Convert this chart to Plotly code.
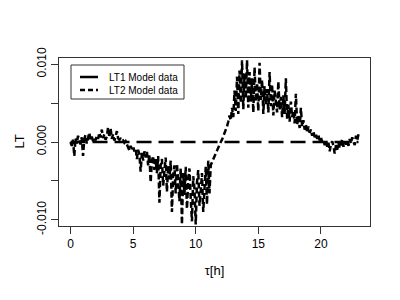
import plotly.graph_objects as go

# time axis (hours), 0.1 h steps
tau = [round(i * 0.1, 1) for i in range(231)]

# LT2 model data (values in 1e-3 units)
lt2_milli = [
    0.0, -0.5, 0.3, -1.8, 0.5, -0.2, 0.8, 0.2, -0.3, 0.6,
    -1.8, 0.4, 0.9, -0.2, 0.6, 1.2, 0.3, 0.7, 0.1, 0.5,
    0.2, 0.8, 0.4, 1.2, 0.6, 1.6, 0.5, 1.0, 0.3, 0.7,
    1.9, 0.6, 1.8, 0.4, 1.0, 0.2, 0.6, 1.4, 0.5, 0.3,
    0.4, 0.1, 0.2, -0.1, 0.1, -0.3, -0.6, -1.1, -0.5, -0.9,
    -0.6, -1.2, -0.8, -2.2, -1.0, -1.6, -3.8, -1.4, -2.4, -1.2,
    -2.0, -1.2, -3.0, -1.6, -5.2, -2.4, -1.8, -3.6, -2.2, -4.0,
    -1.8, -7.8, -3.0, -2.2, -5.6, -3.4, -2.0, -6.4, -3.0, -4.8,
    -2.4, -9.0, -4.2, -3.0, -6.6, -2.8, -5.4, -7.6, -3.4, -10.6,
    -4.0, -6.8, -3.2, -8.6, -5.0, -3.4, -7.2, -10.2, -4.4, -6.0,
    -10.6, -5.2, -3.6, -8.2, -6.4, -4.0, -9.0, -5.6, -3.2, -8.0,
    -2.4, -6.6, -3.0, -2.6, -2.2, -1.8, -1.4, -1.0, -0.7, -0.4,
    0.0, 0.3, 0.7, 1.2, 1.6, 2.0, 2.6, 3.4, 2.8, 4.4,
    3.2, 6.6, 4.0, 8.4, 3.6, 9.2, 5.0, 10.5, 4.2, 8.8,
    5.6, 10.5, 4.4, 9.0, 5.2, 8.2, 3.8, 9.6, 5.2, 7.6,
    4.0, 10.2, 5.4, 8.0, 3.6, 7.2, 4.8, 6.8, 3.8, 9.0,
    4.6, 7.4, 3.4, 6.6, 5.2, 3.8, 7.8, 4.2, 5.8, 3.2,
    6.0, 3.6, 8.2, 3.0, 4.8, 2.6, 5.2, 3.2, 4.0, 2.4,
    6.2, 2.2, 3.4, 1.8, 4.4, 2.0, 2.8, 1.6, 2.2, 1.2,
    2.0, 1.2, 1.6, 0.8, 1.4, 0.6, 1.0, 0.4, 0.9, 0.2,
    0.6, 0.0, 0.3, -0.4, 0.2, -0.6, -0.1, -1.2, -0.3, 0.1,
    -0.5, -1.5, -0.4, -1.0, 0.0, -0.8, -0.2, 0.3, -0.6, 0.0,
    -0.3, 0.2, -0.5, 0.4, -0.2, 0.6, 0.0, -0.4, 0.8, 0.2,
    1.0,
]
lt2 = [v / 1000.0 for v in lt2_milli]

# LT1 model data: flat zero
lt1_x = [0, 23]
lt1 = [0.0, 0.0]

x_ticks = [0, 5, 10, 15, 20]
y_ticks = [-0.010, -0.005, 0.0, 0.005, 0.010]
y_tick_text = ["-0.010", "", "0.000", "", "0.010"]
legend_labels = ["LT1 Model data", "LT2 Model data"]

FONT = "Liberation Sans, Arial, sans-serif"

fig = go.Figure()
fig.add_trace(go.Scatter(x=lt1_x, y=lt1, mode="lines",
                         line=dict(color="black", width=2.5, dash="15px,7px"),
                         showlegend=False, hoverinfo="skip"))
fig.add_trace(go.Scatter(x=tau, y=lt2, mode="lines",
                         line=dict(color="black", width=2.5, dash="6px,3px"),
                         showlegend=False, hoverinfo="skip"))

# page body has an 8 px margin, so offset the figure layout
OFF = 8
W, H = 400, 300
L, R, T, B = 59 - OFF, 30 + OFF, 58 - OFF, 74 + OFF
pw, ph = W - L - R, H - T - B

def px(xp):
    return (xp - OFF - L) / pw

def py(yp):
    return (H - B - (yp - OFF)) / ph

shapes = [
    # legend box
    dict(type="rect", xref="paper", yref="paper", x0=px(71), x1=px(184),
         y0=py(99), y1=py(65), line=dict(color="#333333", width=1)),
    dict(type="line", xref="paper", yref="paper", x0=px(80), x1=px(98),
         y0=py(77), y1=py(77), line=dict(color="black", width=2.5)),
    dict(type="line", xref="paper", yref="paper", x0=px(80), x1=px(98),
         y0=py(90), y1=py(90), line=dict(color="black", width=2.5, dash="5px,3px")),
]
annotations = [
    dict(xref="paper", yref="paper", x=px(107), y=py(77), text=legend_labels[0],
         showarrow=False, xanchor="left", yanchor="middle",
         font=dict(family=FONT, size=10, color="black")),
    dict(xref="paper", yref="paper", x=px(107), y=py(90), text=legend_labels[1],
         showarrow=False, xanchor="left", yanchor="middle",
         font=dict(family=FONT, size=10, color="black")),
    # y-axis title
    dict(xref="paper", yref="paper", x=px(9), y=py(142), text="LT",
         showarrow=False, xanchor="left", yanchor="middle", textangle=-90,
         font=dict(family=FONT, size=13, color="black")),
]

fig.update_layout(
    width=W, height=H,
    margin=dict(l=L, r=R, t=T, b=B, pad=0, autoexpand=False),
    paper_bgcolor="white", plot_bgcolor="white",
    font=dict(family=FONT, size=12, color="black"),
    shapes=shapes, annotations=annotations,
    showlegend=False,
    xaxis=dict(range=[-0.92, 23.92], tickvals=x_ticks, automargin=False,
               showgrid=False, zeroline=False,
               showline=True, mirror=True, linecolor="#333333", linewidth=1,
               ticks="outside", ticklen=7, tickcolor="#333333",
               tickfont=dict(size=12, family=FONT),
               title=dict(text="τ[h]", font=dict(size=13, family=FONT), standoff=15)),
    yaxis=dict(range=[-0.0108, 0.0108], tickvals=y_ticks, ticktext=y_tick_text,
               tickangle=-90, automargin=False,
               showgrid=False, zeroline=False,
               showline=True, mirror=True, linecolor="#333333", linewidth=1,
               ticks="outside", ticklen=7, tickcolor="#333333",
               tickfont=dict(size=12, family=FONT)),
)

fig.write_html("out.html")
